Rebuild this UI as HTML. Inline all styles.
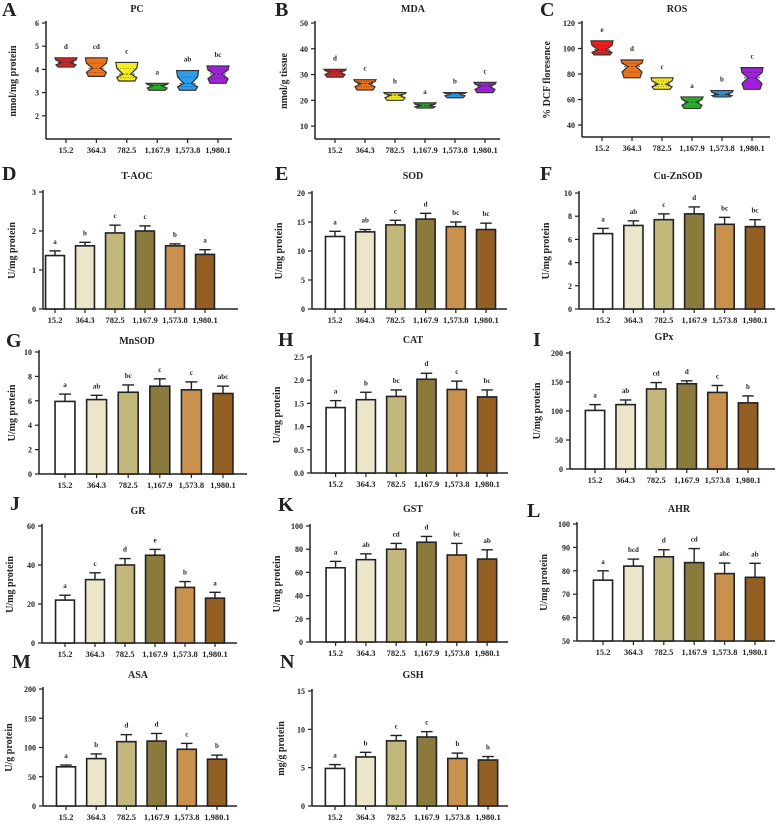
<!DOCTYPE html>
<html><head><meta charset="utf-8">
<style>
html,body{margin:0;padding:0;background:#fff;}
svg{display:block;}
text{font-family:"Liberation Serif",serif;font-weight:bold;fill:#222;}
</style></head>
<body>
<svg id="fig" width="777" height="825" viewBox="0 0 777 825" xmlns="http://www.w3.org/2000/svg"></svg>
<script>
const categories=["15.2","364.3","782.5","1,167.9","1,573.8","1,980.1"];
// violin data: max, min, median
const pcMax=[4.5,4.5,4.3,3.4,3.95,4.15];
const pcMin=[4.1,3.7,3.5,3.1,3.1,3.4];
const pcMed=[4.3,4.05,3.8,3.3,3.4,3.8];
const pcLetters=["d","cd","c","a","ab","bc"];
const mdaMax=[32,28,23,19,23,27];
const mdaMin=[29,24,20,17,21,23];
const mdaMed=[31,26.5,22,18,22.5,25.5];
const mdaLetters=["d","c","b","a","b","c"];
const rosMax=[106,91,77,62,67,85];
const rosMin=[95,77,68,53,62,68];
const rosMed=[99,86,72,58,64,77];
const rosLetters=["e","d","c","a","b","c"];
// bar data: mean, error, letters
const taocMean=[1.37,1.62,1.95,2.0,1.62,1.4];
const taocErr=[0.12,0.09,0.2,0.13,0.05,0.12];
const taocLetters=["a","b","c","c","b","a"];
const sodMean=[12.5,13.3,14.5,15.5,14.2,13.7];
const sodErr=[0.9,0.4,0.8,1.0,0.8,1.1];
const sodLetters=["a","ab","c","d","bc","bc"];
const cuznMean=[6.5,7.2,7.7,8.2,7.3,7.1];
const cuznErr=[0.45,0.4,0.5,0.6,0.6,0.6];
const cuznLetters=["a","ab","c","d","bc","bc"];
const mnsodMean=[5.95,6.1,6.7,7.2,6.9,6.6];
const mnsodErr=[0.6,0.35,0.6,0.6,0.65,0.6];
const mnsodLetters=["a","ab","bc","c","c","abc"];
const catMean=[1.41,1.58,1.65,2.02,1.8,1.64];
const catErr=[0.15,0.16,0.14,0.13,0.18,0.15];
const catLetters=["a","b","bc","d","c","bc"];
const gpxMean=[101,111,138,147,132,114];
const gpxErr=[10,8,11,5,12,12];
const gpxLetters=["a","ab","cd","d","c","b"];
const grMean=[22,32.5,40,45,28.5,23];
const grErr=[2.5,3.5,3.3,3,3,3];
const grLetters=["a","c","d","e","b","a"];
const gstMean=[64,71,80,86,75,71.5];
const gstErr=[5.5,5,5,5,10,8];
const gstLetters=["a","ab","cd","d","bc","ab"];
const ahrMean=[76,82,86,83.5,78.8,77.2];
const ahrErr=[4,3,3,6,4.5,6];
const ahrLetters=["a","bcd","d","cd","abc","ab"];
const asaMean=[67,81,110,111,97,80];
const asaErr=[3,8,12,13,10,7];
const asaLetters=["a","b","d","d","c","b"];
const gshMean=[4.9,6.4,8.5,9.0,6.2,6.0];
const gshErr=[0.5,0.6,0.7,0.7,0.7,0.45];
const gshLetters=["a","b","c","c","b","b"];

const violinColors=["#ee1c1c","#f07318","#f5ee1a","#2bb52b","#2a9ef0","#a21ee0"];
const barColors=["#ffffff","#ebe6c9","#c2b87c","#8a7b3c","#c8914e","#945f22"];
const NS="http://www.w3.org/2000/svg";
const svg=document.getElementById('fig');
function mk(tag,attrs,parent){const e=document.createElementNS(NS,tag);for(const k in attrs)e.setAttribute(k,attrs[k]);(parent||svg).appendChild(e);return e;}
function txt(s,x,y,size,anchor,parent){const t=mk('text',{x:x,y:y,'font-size':size,'text-anchor':anchor||'middle'},parent);t.textContent=s;return t;}

function drawPanel(p){
  const g=mk('g',{});
  
  
  const yS=v=>p.yBot-(v-p.vmin)/(p.vmax-p.vmin)*(p.yBot-p.yTop);
  const xS=i=>p.c0+i*p.step;
  const L=txt(p.id,p.lx,p.ly,20,'start',g);
  
  const T=txt(p.title,p.tx,p.ty,10,'middle',g);
  
  const ya=mk('line',{x1:p.x0,y1:p.yTop-2,x2:p.x0,y2:p.yBot,stroke:'#222','stroke-width':1.5},g);
  
  const xa=mk('line',{x1:p.x0,y1:p.yBot,x2:p.x1,y2:p.yBot,stroke:'#222','stroke-width':1.5},g);
  
  p.ticks.forEach((v,k)=>{
    const y=yS(v);
    mk('line',{x1:p.x0-4,y1:y,x2:p.x0,y2:y,stroke:'#222','stroke-width':1.2},g);
    const t=txt(p.tickLabels[k],p.x0-7,y+3,8,'end',g);
    
  });
  const yt=mk('text',{x:0,y:0,'font-size':10,'text-anchor':'middle',transform:`translate(${p.x0-p.ytOff},${(p.yTop+p.yBot)/2}) rotate(-90)`},g);
  yt.textContent=p.ytitle;
  
  categories.forEach((c,i)=>{
    const x=xS(i);
    mk('line',{x1:x,y1:p.yBot,x2:x,y2:p.yBot+4,stroke:'#222','stroke-width':1.2},g);
    const t=txt(c,x,p.yBot+14,8.5,'middle',g);
    
  });
  if(p.type==='bar'){
    const bw=p.step*0.63;
    p.mean.forEach((m,i)=>{
      const x=xS(i),yt2=yS(m),ye=yS(m+p.err[i]);
      mk('line',{x1:x,y1:yt2,x2:x,y2:ye,stroke:'#222','stroke-width':1.4},g);
      mk('line',{x1:x-bw*0.3,y1:ye,x2:x+bw*0.3,y2:ye,stroke:'#222','stroke-width':1.4},g);
      const r=mk('rect',{x:x-bw/2,y:yt2,width:bw,height:p.yBot-yt2,fill:barColors[i],stroke:'#222','stroke-width':1.6},g);
      
      
      const l=txt(p.letters[i],x,ye-7,7,'middle',g);
      
    });
  } else {
    p.max.forEach((mx,i)=>{
      const x=xS(i),mn=p.min[i],md=p.med[i];
      const yMx=yS(mx),yMn=yS(mn),yMd=yS(md),yQ3=yS((mx+md)/2),yQ1=yS((mn+md)/2);
      const pts=[[11,yMx],[10,yQ3],[4,yMd],[10,yQ1],[8,yMn]];
      const d=pts.map(q=>(x-q[0])+','+q[1]).concat(pts.slice().reverse().map(q=>(x+q[0])+','+q[1])).join(' ');
      const v=mk('polygon',{points:d,fill:violinColors[i],stroke:'#333','stroke-width':1.2},g);
      
      
      mk('line',{x1:x-8,y1:yMd,x2:x+8,y2:yMd,stroke:'#333','stroke-width':0.8,'stroke-dasharray':'2,1.5'},g);
      mk('line',{x1:x-9,y1:yQ3,x2:x+9,y2:yQ3,stroke:'#333','stroke-width':0.6,'stroke-dasharray':'1,1.5'},g);
      mk('line',{x1:x-9,y1:yQ1,x2:x+9,y2:yQ1,stroke:'#333','stroke-width':0.6,'stroke-dasharray':'1,1.5'},g);
      const l=txt(p.letters[i],x,yMx-9,7,'middle',g);
      
    });
  }
}
const R=(a,b,s)=>{const o=[];for(let v=a;v<=b+1e-9;v+=s)o.push(+v.toFixed(2));return o;};
const panels=[
 {id:'A',type:'violin',title:'PC',ytitle:'nmol/mg protein',max:pcMax,min:pcMin,med:pcMed,letters:pcLetters,x0:46,x1:232,yTop:23,yBot:139,vmin:1,vmax:6,c0:66,step:30.4,ticks:[2,3,4,5,6],tickLabels:['2','3','4','5','6'],lx:2,ly:16,tx:137,ty:12,ytOff:30},
 {id:'B',type:'violin',title:'MDA',ytitle:'nmol/g tissue',max:mdaMax,min:mdaMin,med:mdaMed,letters:mdaLetters,x0:315,x1:500,yTop:23,yBot:139,vmin:5,vmax:50,c0:335,step:30,ticks:[10,20,30,40,50],tickLabels:['10','20','30','40','50'],lx:275,ly:16,tx:413,ty:12,ytOff:28},
 {id:'C',type:'violin',title:'ROS',ytitle:'% DCF floresence',max:rosMax,min:rosMin,med:rosMed,letters:rosLetters,x0:582,x1:770,yTop:23,yBot:137,vmin:30.6,vmax:120,c0:602,step:30,ticks:[40,60,80,100,120],tickLabels:['40','60','80','100','120'],lx:540,ly:16,tx:677,ty:12,ytOff:32},
 {id:'D',type:'bar',title:'T-AOC',ytitle:'U/mg protein',mean:taocMean,err:taocErr,letters:taocLetters,x0:43,x1:238,yTop:192,yBot:309,vmin:0,vmax:3,c0:55,step:30,ticks:[0,1,2,3],tickLabels:['0','1','2','3'],lx:2,ly:180,tx:137,ty:179,ytOff:28},
 {id:'E',type:'bar',title:'SOD',ytitle:'U/mg protein',mean:sodMean,err:sodErr,letters:sodLetters,x0:312,x1:507,yTop:193,yBot:309,vmin:0,vmax:20,c0:335,step:30.2,ticks:R(0,20,5),tickLabels:['0','5','10','15','20'],lx:275,ly:180,tx:413,ty:179,ytOff:30},
 {id:'F',type:'bar',title:'Cu-ZnSOD',ytitle:'U/mg protein',mean:cuznMean,err:cuznErr,letters:cuznLetters,x0:579,x1:775,yTop:193,yBot:309,vmin:0,vmax:10,c0:603,step:30.4,ticks:R(0,10,2),tickLabels:['0','2','4','6','8','10'],lx:540,ly:180,tx:678,ty:179,ytOff:30},
 {id:'G',type:'bar',title:'MnSOD',ytitle:'U/mg protein',mean:mnsodMean,err:mnsodErr,letters:mnsodLetters,x0:39,x1:247,yTop:352,yBot:474,vmin:0,vmax:10,c0:65,step:31.6,ticks:R(0,10,2),tickLabels:['0','2','4','6','8','10'],lx:6,ly:347,tx:137,ty:344,ytOff:24},
 {id:'H',type:'bar',title:'CAT',ytitle:'U/mg protein',mean:catMean,err:catErr,letters:catLetters,x0:311,x1:508,yTop:357,yBot:473,vmin:0,vmax:2.5,c0:335.6,step:30.3,ticks:R(0,2.5,0.5),tickLabels:['0.0','0.5','1.0','1.5','2.0','2.5'],lx:278,ly:346,tx:413,ty:343,ytOff:31},
 {id:'I',type:'bar',title:'GPx',ytitle:'U/mg protein',mean:gpxMean,err:gpxErr,letters:gpxLetters,x0:570,x1:775,yTop:353,yBot:469,vmin:0,vmax:200,c0:595,step:30.6,ticks:R(0,200,50),tickLabels:['0','50','100','150','200'],lx:533,ly:346,tx:664,ty:340,ytOff:30},
 {id:'J',type:'bar',title:'GR',ytitle:'U/mg protein',mean:grMean,err:grErr,letters:grLetters,x0:42,x1:237,yTop:526,yBot:643,vmin:0,vmax:60,c0:65,step:30,ticks:[0,20,40,60],tickLabels:['0','20','40','60'],lx:10,ly:510,tx:138,ty:514,ytOff:29},
 {id:'K',type:'bar',title:'GST',ytitle:'U/mg protein',mean:gstMean,err:gstErr,letters:gstLetters,x0:310,x1:508,yTop:526,yBot:642,vmin:0,vmax:100,c0:335.6,step:30.3,ticks:R(0,100,20),tickLabels:['0','20','40','60','80','100'],lx:278,ly:511,tx:413,ty:512,ytOff:30},
 {id:'L',type:'bar',title:'AHR',ytitle:'U/mg protein',mean:ahrMean,err:ahrErr,letters:ahrLetters,x0:577,x1:775,yTop:524,yBot:641,vmin:50,vmax:100,c0:603,step:30.4,ticks:R(50,100,10),tickLabels:['50','60','70','80','90','100'],lx:527,ly:517,tx:679,ty:512,ytOff:30},
 {id:'M',type:'bar',title:'ASA',ytitle:'U/g protein',mean:asaMean,err:asaErr,letters:asaLetters,x0:43,x1:237,yTop:689,yBot:806,vmin:0,vmax:200,c0:66,step:30.2,ticks:R(0,200,50),tickLabels:['0','50','100','150','200'],lx:12,ly:668,tx:138,ty:678,ytOff:31},
 {id:'N',type:'bar',title:'GSH',ytitle:'mg/g protein',mean:gshMean,err:gshErr,letters:gshLetters,x0:312,x1:508,yTop:691,yBot:806,vmin:0,vmax:15,c0:335,step:30.6,ticks:[0,5,10,15],tickLabels:['0','5','10','15'],lx:280,ly:668,tx:413,ty:678,ytOff:28}
];
panels.forEach(drawPanel);
</script>
</body></html>
